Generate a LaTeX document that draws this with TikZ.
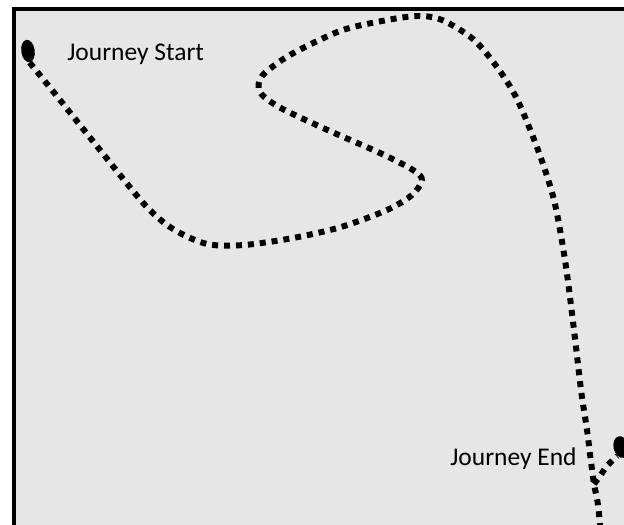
\documentclass[tikz,border=0pt]{standalone}
\usepackage{fontspec}
\setmainfont{Carlito}
\definecolor{mapgray}{HTML}{E6E6E6}
\tikzset{
	route/.style={line width=3.4pt, dash pattern=on 3.4pt off 3.4pt},
	place/.style={fill=black, ellipse, inner sep=0pt},
	label/.style={inner sep=0pt, anchor=base west, font=\fontsize{14.5}{17}\selectfont}
}
\usetikzlibrary{shapes.geometric}
\begin{document}
\begin{tikzpicture}[x=0.02cm, y=-0.02cm]
	\useasboundingbox (0,0) rectangle (624,524);
	\clip (0,0) rectangle (624,524);
	
	% the map area
	\fill[mapgray] (14,9) rectangle (640,540);
	\draw[line width=2.27pt] (14,540) -- (14,9) -- (640,9);
	
	% start and end of the journey
	\node[place, minimum width=0.27cm, minimum height=0.45cm, rotate=8] (start) at (28,51) {};
	\node[place, minimum width=0.3cm, minimum height=0.44cm, rotate=12] (finish) at (621,447) {};
	\coordinate (fork) at (594,484);
	\coordinate (exit) at (602,545);
	
	% labels
	\node[label] (startlabel) at (67,60) {Journey Start};
	\node[label] (endlabel) at (450,465) {Journey End};
	
	% the route
	\draw[route] plot[smooth, tension=0.5] coordinates {
		(start.south) (60,100) (100,150) (145,205) (173,229) (207,244) (244,245)
		(293,238) (341,227) (387,210) (412,195) (422,180) (413,170) (380,153)
		(323,128) (279,107) (260,92) (262,76) (290,55) (340,31) (382,21) (417,16)
		(442,20) (473,39) (497,67) (517,99) (538,150) (554,200) (565,260) (574,330)
		(581,390) (587,430) (591,462) (fork) (598,505) (exit)};
	\draw[route] plot[smooth] coordinates {(fork) (600,476) (607,466) (finish.south west)};
	
\end{tikzpicture}
\end{document}
